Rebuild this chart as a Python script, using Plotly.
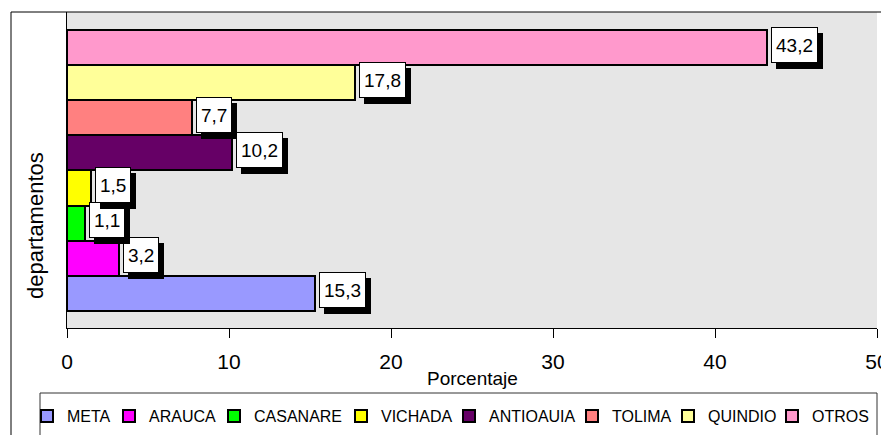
import plotly.graph_objects as go

departamentos = ["META", "ARAUCA", "CASANARE", "VICHADA", "ANTIOAUIA", "TOLIMA", "QUINDIO", "OTROS"]
porcentaje = [15.3, 3.2, 1.1, 1.5, 10.2, 7.7, 17.8, 43.2]
colores = ["#9999FF", "#FF00FF", "#00FF00", "#FFFF00", "#660066", "#FF8080", "#FFFF99", "#FF99CC"]
x_ticks = [0, 10, 20, 30, 40, 50]

W, H = 881, 435
ML, MR, MT, MB = 67, 4, 12, 107
PW, PH = W - ML - MR, H - MT - MB

def px_x(p):
    return (p - ML) / PW

def px_y(p):
    return (H - MB - p) / PH

FONT = "Liberation Sans, Arial, sans-serif"

# where each legend entry's text starts (pixels)
legend_text_px = [67, 149, 254, 381, 489, 612, 708, 812]

fig = go.Figure()
legends = {}
for i, (d, v, c) in enumerate(zip(departamentos, porcentaje, colores)):
    lname = "legend" if i == 0 else f"legend{i+1}"
    fig.add_trace(go.Bar(
        x=[v], y=[i], orientation="h", name=d, width=1,
        marker=dict(color=c, line=dict(color="black", width=2)),
        hoverinfo="x+name", legend=lname,
    ))
    legends[lname] = dict(orientation="h", x=px_x(legend_text_px[i] - 40), y=px_y(416),
                          xanchor="left", yanchor="middle", font=dict(size=16),
                          bgcolor="rgba(0,0,0,0)", borderwidth=0, itemwidth=30)

annotations = []
for i, v in enumerate(porcentaje):
    txt = f"{v:.1f}".replace(".", ",")
    common = dict(x=v, y=i, xref="x", yref="y", text=txt, showarrow=False,
                  xanchor="left", yanchor="middle", borderpad=4, height=26,
                  borderwidth=1, font=dict(family=FONT, size=19, color="black"))
    # shadow
    annotations.append(dict(common, xshift=9, yshift=-3, bgcolor="black", bordercolor="black"))
    annotations.append(dict(common, xshift=4, yshift=3, bgcolor="white", bordercolor="black"))

annotations.append(dict(text="Porcentaje", x=0.5, y=px_y(378), xref="paper", yref="paper",
                        showarrow=False, xanchor="center", yanchor="middle",
                        font=dict(family=FONT, size=19, color="black")))
annotations.append(dict(text="departamentos", x=px_x(35), y=px_y(226), xref="paper", yref="paper",
                        showarrow=False, xanchor="center", yanchor="middle", textangle=-90,
                        font=dict(family=FONT, size=22, color="black")))

shapes = [
    dict(type="rect", xref="paper", yref="paper", x0=px_x(11), x1=px_x(895),
         y0=px_y(450), y1=px_y(12), line=dict(color="black", width=1),
         fillcolor="rgba(0,0,0,0)", layer="below"),
    dict(type="rect", xref="paper", yref="paper", x0=px_x(40), x1=px_x(877),
         y0=px_y(450), y1=px_y(393), line=dict(color="#333333", width=1),
         fillcolor="rgba(0,0,0,0)"),
]

fig.update_layout(
    width=W, height=H,
    margin=dict(l=ML, r=MR, t=MT, b=MB, pad=0, autoexpand=False),
    paper_bgcolor="white", plot_bgcolor="#e6e6e6",
    barmode="overlay", bargap=0,
    font=dict(family=FONT, color="black"),
    xaxis=dict(range=[0, 50], tickvals=x_ticks, ticks="outside", ticklen=9, tickcolor="black",
               showline=True, linecolor="black", linewidth=1, showgrid=False, zeroline=False,
               tickfont=dict(size=21), ticklabelstandoff=6, automargin=False,
               ticklabeloverflow="allow"),
    yaxis=dict(range=[-0.984, 8.012], showticklabels=False, ticks="", showline=True,
               linecolor="black", linewidth=1, showgrid=False, zeroline=False, automargin=False),
    showlegend=True,
    annotations=annotations,
    shapes=shapes,
    **legends,
)

fig.write_html("out.html", config={"displayModeBar": False},
               post_script="document.body.style.margin='0';document.body.style.overflow='hidden';")
